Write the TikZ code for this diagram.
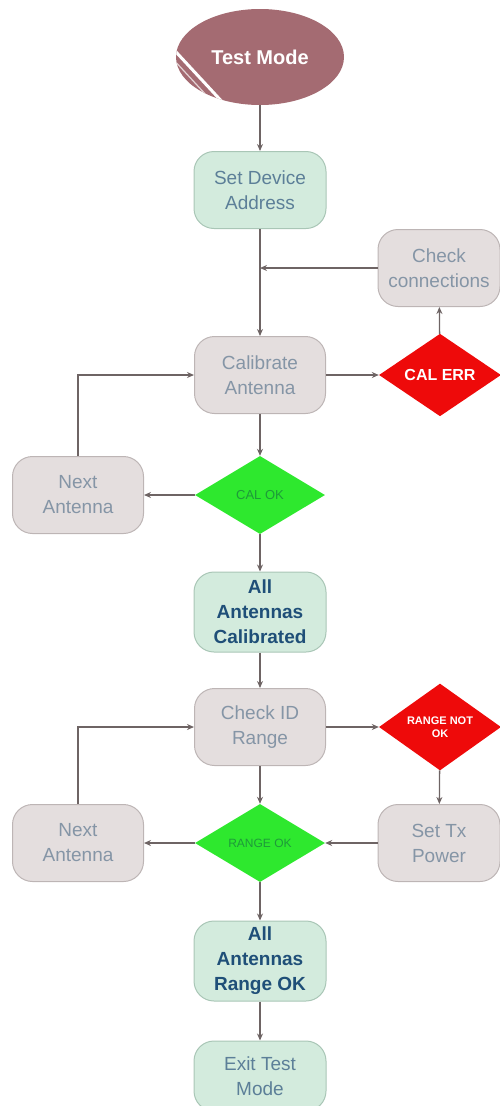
\documentclass[tikz,border=0pt]{standalone}
\usepackage{fontspec}
\setmainfont{Liberation Sans}
\usetikzlibrary{shapes.geometric,arrows.meta}
\definecolor{gfill}{HTML}{D3EBDD}
\definecolor{gdraw}{HTML}{A9C6B6}
\definecolor{pfill}{HTML}{E4DEDE}
\definecolor{pdraw}{HTML}{BDB5B5}
\definecolor{boxtxt}{HTML}{5C7F98}
\definecolor{graytxt}{HTML}{8595A6}
\definecolor{boldtxt}{HTML}{1F4F78}
\definecolor{redd}{HTML}{EE0A0A}
\definecolor{grn}{HTML}{2EE82E}
\definecolor{grntxt}{HTML}{1E9A3A}
\definecolor{ell}{HTML}{A46B72}
\definecolor{arrc}{HTML}{6E6464}
\tikzset{
  gbox/.style={draw=gdraw, line width=1pt, fill=gfill, rounded corners=20pt, minimum width=132pt, minimum height=77pt, align=center, font=\fontsize{19}{25}\selectfont, text=boxtxt, inner sep=2pt},
  gboldbox/.style={gbox, font=\fontsize{19}{25}\selectfont\bfseries, text=boldtxt},
  pbox/.style={draw=pdraw, line width=1pt, fill=pfill, rounded corners=20pt, minimum width=131pt, minimum height=77pt, align=center, font=\fontsize{19}{25}\selectfont, text=graytxt, inner sep=2pt},
  rdia/.style={diamond, fill=redd, minimum width=122pt, minimum height=77pt, inner sep=0pt, align=center, text=white, font=\bfseries},
  gdia/.style={diamond, fill=grn, minimum width=130pt, minimum height=78pt, inner sep=0pt, align=center, text=grntxt},
  arr/.style={draw=arrc, line width=1.3pt, -{Stealth[length=7pt,width=6pt]}},
}
\begin{document}
\begin{tikzpicture}[x=1pt,y=-1pt]
\useasboundingbox (0,0) rectangle (499,1106);
% start ellipse
\node[ellipse, fill=ell, minimum width=168pt, minimum height=96pt, text=white, font=\fontsize{20}{24}\selectfont\bfseries] (start) at (260,57) {Test Mode};
\begin{scope}
\clip (260,57) ellipse (84pt and 48pt);
\draw[white, line width=3pt] (176,52) -- (226,106);
\draw[white!70!ell, line width=1.2pt] (172,58) -- (220,110);
\end{scope}
\node[gbox] (sda) at (260,190) {Set Device\\Address};
\node[pbox, minimum width=122pt] (chk) at (439,268) {Check\\connections};
\coordinate (j1) at (260,268);
\node[pbox] (cal) at (260,375) {Calibrate\\Antenna};
\node[rdia, font=\fontsize{16}{18}\selectfont\bfseries] (calerr) at (440,375) {CAL ERR};
\node[gdia, font=\fontsize{13}{15}\selectfont] (calok) at (260,495) {CAL OK};
\node[pbox] (na1) at (78,495) {Next\\Antenna};
\node[gboldbox, minimum height=80pt] (allcal) at (260,612) {All\\Antennas\\Calibrated};
\node[pbox] (cid) at (260,727) {Check ID\\Range};
\node[rdia, font=\fontsize{11}{13}\selectfont\bfseries] (rnok) at (440,727) {RANGE NOT\\OK};
\node[gdia, font=\fontsize{12}{14}\selectfont] (rok) at (260,843) {RANGE OK};
\node[pbox] (na2) at (78,843) {Next\\Antenna};
\node[pbox, minimum width=122pt] (stx) at (439,843) {Set Tx\\Power};
\node[gboldbox, minimum height=80pt] (allr) at (260,961) {All\\Antennas\\Range OK};
\node[gbox, minimum height=70pt] (exit) at (260,1076) {Exit Test\\Mode};
% connectors
\draw[arr] (start) -- (sda);
\draw[arr] (sda) -- (cal);
\draw[arr] (chk) -- (j1);
\draw[arr] (cal) -- (calerr);
\draw[arr] (calerr) -- (chk);
\draw[arr] (cal) -- (calok);
\draw[arr] (calok) -- (na1);
\draw[arr] (na1.north) |- (cal.west);
\draw[arr] (calok) -- (allcal);
\draw[arr] (allcal) -- (cid);
\draw[arr] (cid) -- (rnok);
\draw[arr] (rnok) -- (stx);
\draw[arr] (stx) -- (rok);
\draw[arr] (cid) -- (rok);
\draw[arr] (rok) -- (na2);
\draw[arr] (na2.north) |- (cid.west);
\draw[arr] (rok) -- (allr);
\draw[arr] (allr) -- (exit);
\end{tikzpicture}
\end{document}
